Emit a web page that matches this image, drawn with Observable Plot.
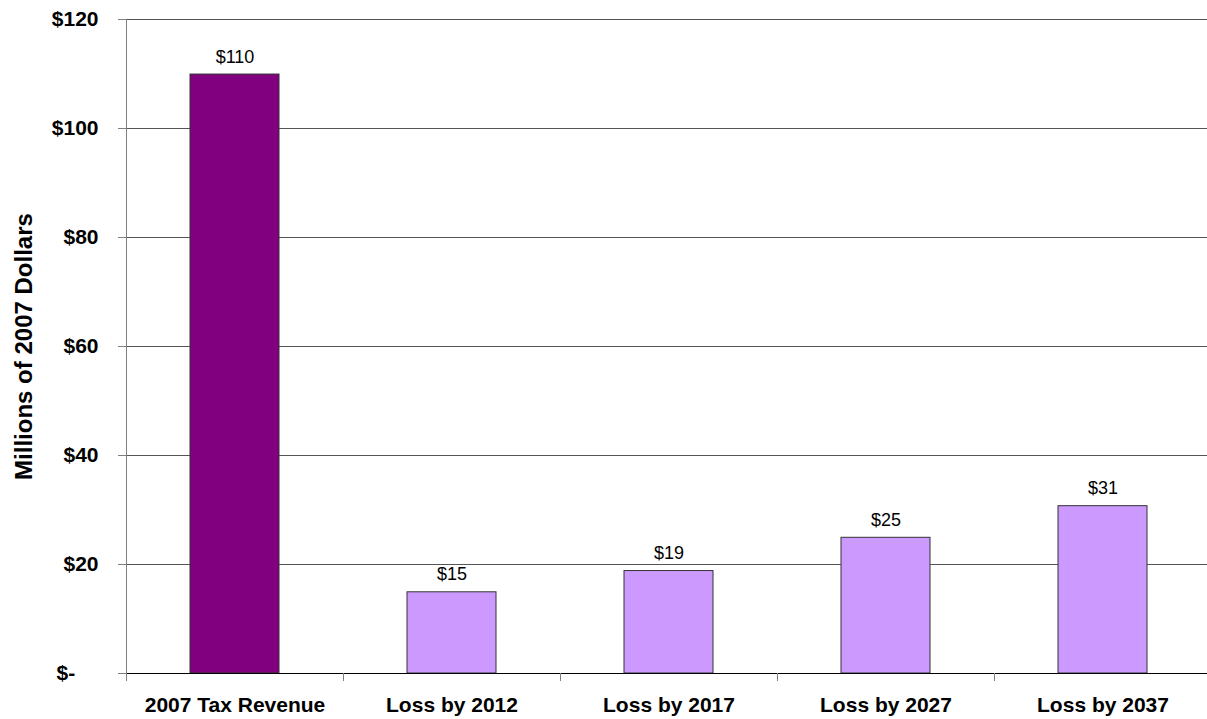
<!DOCTYPE html>
<html>
<head>
<meta charset="utf-8">
<script src="https://cdn.jsdelivr.net/npm/d3@7"></script>
<script src="https://cdn.jsdelivr.net/npm/@observablehq/plot@0.6"></script>
<style>
  html, body { margin: 0; padding: 0; background: #fff; }
  #chart svg { display: block; overflow: visible; }
</style>
</head>
<body>
<div id="chart"></div>
<script>
const categories = ["2007 Tax Revenue", "Loss by 2012", "Loss by 2017", "Loss by 2027", "Loss by 2037"];
const values = [109.9, 14.9, 18.8, 24.9, 30.7];
const barColors = ["#800080", "#CC99FF", "#CC99FF", "#CC99FF", "#CC99FF"];
const yTicks = [0, 20, 40, 60, 80, 100, 120];
const yLabel = "Millions of 2007 Dollars";

const data = categories.map((c, i) => ({category: c, value: values[i], color: barColors[i]}));

const W = 1207, H = 719;
const marginLeft = 126, marginRight = -4, marginTop = 19, marginBottom = 46;
const step = (W - marginLeft - marginRight) / categories.length;
const barWidth = 89;
const inset = (step - barWidth) / 2;
const font = "'Liberation Sans', Arial, sans-serif";

const chart = Plot.plot({
  width: W,
  height: H,
  marginLeft, marginRight, marginTop, marginBottom,
  style: {fontFamily: font, background: "#fff", color: "#000"},
  x: {domain: categories, padding: 0},
  y: {domain: [0, 120]},
  marks: [
    Plot.ruleY(yTicks.filter(d => d > 0), {stroke: "#555", strokeWidth: 1}),
    Plot.frame({anchor: "left", stroke: "#808080"}),
    Plot.barY(data, {x: "category", y: "value", fill: "color", stroke: "#333", strokeWidth: 1, insetLeft: inset, insetRight: inset}),
    Plot.ruleY([0], {stroke: "#000", strokeWidth: 1, insetLeft: -8}),
    Plot.ruleX(categories, {x: d => d, dx: -step / 2, y1: 0, y2: 0, insetBottom: -8, stroke: "#808080"}),
    Plot.text(data, {x: "category", y: "value", text: d => "$" + Math.round(d.value), lineAnchor: "bottom", dy: -12, fontSize: 18, fill: "#000"}),
    Plot.axisY({ticks: yTicks, tickSize: 8, tickPadding: 20, stroke: "#808080",
      tickFormat: d => d === 0 ? "$-\u2007\u2007" : "$" + d,
      fontSize: 21, fontWeight: "bold", label: null}),
    Plot.axisX({tickSize: 0, tickPadding: 24, fontSize: 21, fontWeight: "bold", label: null}),
    Plot.text([yLabel], {frameAnchor: "left", textAnchor: "middle", rotate: -90, dx: -102, fontSize: 24, fontWeight: "bold", fill: "#000"})
  ]
});
document.getElementById("chart").appendChild(chart);
</script>
</body>
</html>
